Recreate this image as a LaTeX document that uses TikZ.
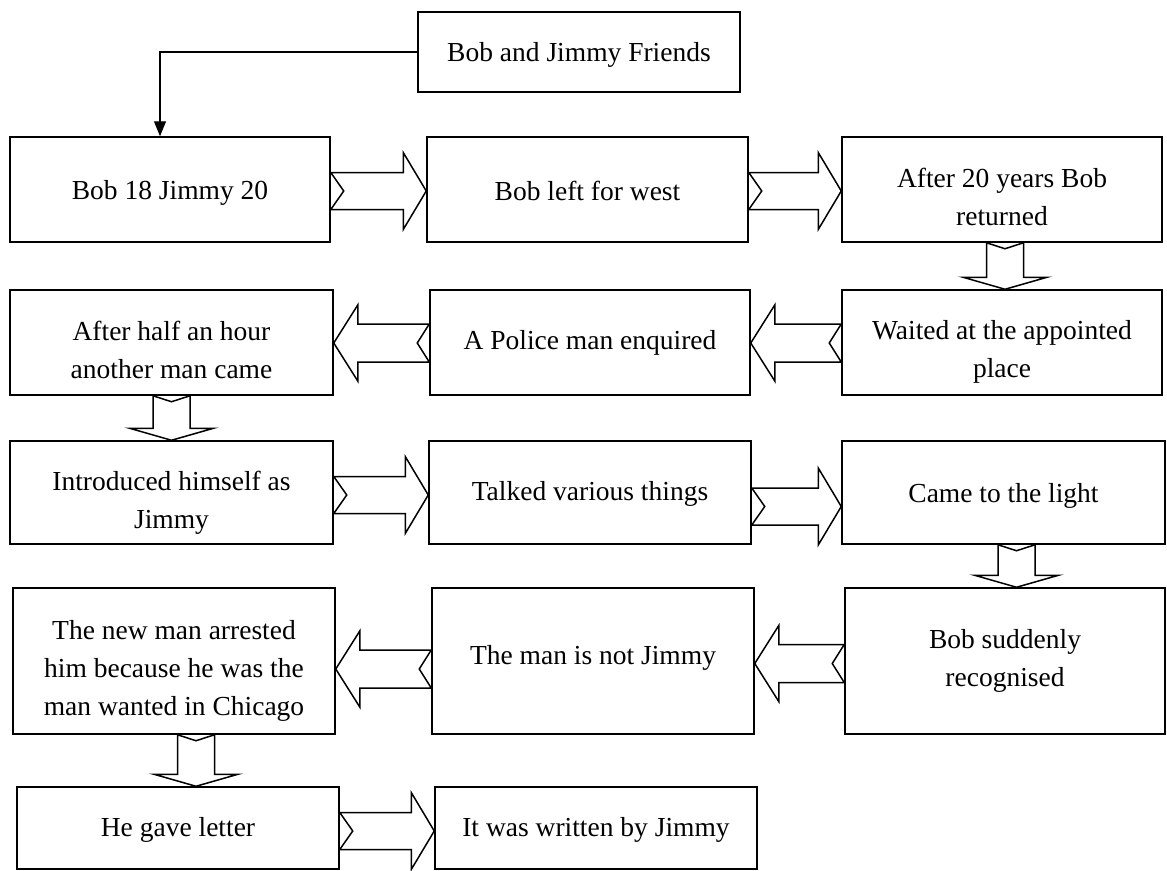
\documentclass[tikz,border=0pt]{standalone}
\usepackage{fontspec}
\setmainfont{Liberation Serif}
\usetikzlibrary{calc,arrows.meta}
\tikzset{
  box/.style={draw, line width=1.5pt, rectangle, inner sep=0pt},
  txt/.style={inner sep=0pt, align=center, font=\fontsize{27.5}{38}\selectfont},
  blk/.style={draw, line width=1.5pt, line join=miter, fill=white},
  link/.style={draw, line width=1.2pt, -{Triangle[length=15pt,width=12pt]}},
}
% box with its text: name, x, y, width, height, text shift down, text
\newcommand\bx[7]{%
  \node[box, minimum width=#4pt, minimum height=#5pt] (#1) at (#2,#3) {};
  \node[txt] (#1t) at ([yshift=-#6pt]#1.center) {#7};}
% right block arrow: tail node, tip node, vertical shift
\newcommand\rblk[3]{\draw[blk] let \p1=([yshift=#3]#1.east), \p2=(#2.west) in
  (\x1,\y1+18.5pt) -- (\x2-23pt,\y1+18.5pt) -- (\x2-23pt,\y1+38.5pt) -- (\x2,\y1)
  -- (\x2-23pt,\y1-38.5pt) -- (\x2-23pt,\y1-18.5pt) -- (\x1,\y1-18.5pt) -- (\x1+13pt,\y1) -- cycle;}
% left block arrow
\newcommand\lblk[3]{\draw[blk] let \p1=([yshift=#3]#1.west), \p2=(#2.east) in
  (\x1,\y1+19pt) -- (\x2+24pt,\y1+19pt) -- (\x2+24pt,\y1+38pt) -- (\x2,\y1)
  -- (\x2+24pt,\y1-38pt) -- (\x2+24pt,\y1-19pt) -- (\x1,\y1-19pt) -- (\x1-12pt,\y1) -- cycle;}
% down block arrow
\newcommand\dblk[3]{\draw[blk] let \p1=([xshift=#3]#1.south), \p2=(#2.north) in
  (\x1-18.5pt,\y1) -- (\x1-18.5pt,\y2+12pt) -- (\x1-42pt,\y2+12pt) -- (\x1,\y2)
  -- (\x1+42pt,\y2+12pt) -- (\x1+18.5pt,\y2+12pt) -- (\x1+18.5pt,\y1) -- (\x1,\y1-6pt) -- cycle;}
\begin{document}
\begin{tikzpicture}[x=1pt,y=-1pt]
\useasboundingbox (0,0) rectangle (1167,870);
% top
\bx{T}{579}{52}{322}{80}{3}{Bob and Jimmy Friends}
% row 1
\bx{A}{170}{189.5}{320}{105}{3}{Bob 18 Jimmy 20}
\bx{B}{587.5}{189.5}{321}{105}{1}{Bob left for west}
\bx{C}{1002}{189.5}{320}{105}{7}{After 20 years Bob\\returned}
% row 2
\bx{D}{171.5}{342.5}{323}{105}{7}{After half an hour\\another man came}
\bx{E}{590}{342.5}{320}{105}{0}{A Police man enquired}
\bx{F}{1002}{342.5}{320}{105}{9}{Waited at the appointed\\place}
% row 3
\bx{G}{171.5}{492.5}{323}{103}{10}{Introduced himself as\\Jimmy}
\bx{H}{590}{492.5}{322}{103}{1}{Talked various things}
\bx{I}{1003.5}{492.5}{323}{103}{3}{Came to the light}
% row 4
\bx{K}{174}{661}{322}{146}{10}{The new man arrested\\him because he was the\\man wanted in Chicago}
\bx{L}{593}{661}{322}{146}{-3}{The man is not Jimmy}
\bx{M}{1005}{661}{320}{146}{0}{Bob suddenly\\recognised}
% row 5
\bx{N}{178}{828}{322}{82}{2}{He gave letter}
\bx{O}{596}{828}{322}{82}{2}{It was written by Jimmy}
% connector
\draw[link] (T.west) -| ([xshift=-10pt]A.north);
% block arrows
\rblk{A}{B}{-1.5pt}
\rblk{B}{C}{-1.5pt}
\dblk{C}{F}{3pt}
\lblk{F}{E}{-0.5pt}
\lblk{E}{D}{-0.5pt}
\dblk{D}{G}{0pt}
\rblk{G}{H}{-2.5pt}
\rblk{H}{I}{-14pt}
\dblk{I}{M}{13pt}
\lblk{M}{L}{-2.5pt}
\lblk{L}{K}{-8pt}
\dblk{K}{N}{22pt}
\rblk{N}{O}{-3pt}
\end{tikzpicture}
\end{document}
